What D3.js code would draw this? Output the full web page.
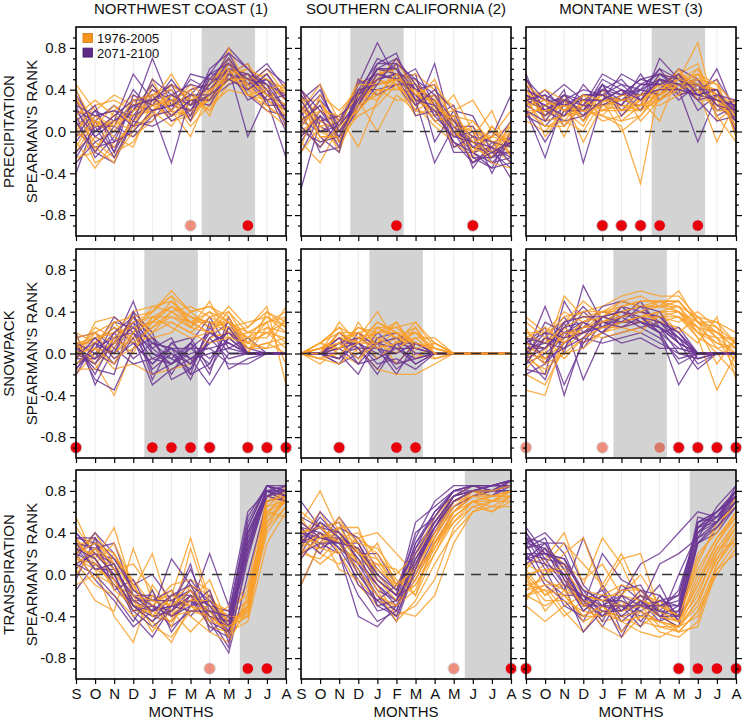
<!DOCTYPE html>
<html><head><meta charset="utf-8">
<script src="https://cdn.jsdelivr.net/npm/d3@7"></script>
<style>
body{margin:0;background:#fff}
svg{display:block}
text{font-family:"Liberation Sans",Arial,sans-serif;fill:#111}
</style>
</head><body><svg id="c" width="742" height="718"></svg>
<script>
// ---------------- DATA ----------------
const months = ["S","O","N","D","J","F","M","A","M","J","J","A"];
const regions = ["NORTHWEST COAST (1)","SOUTHERN CALIFORNIA (2)","MONTANE WEST (3)"];
const variables = ["PRECIPITATION","SNOWPACK","TRANSPIRATION"];
const yLabel = "SPEARMAN\u2019S RANK";
const periods = ["1976-2005","2071-2100"];
const xTitle = "MONTHS";
const majorTicks = [-0.8,-0.4,0.0,0.4,0.8];
const minorTicks = [-0.9,-0.7,-0.6,-0.5,-0.3,-0.2,-0.1,0.1,0.2,0.3,0.5,0.6,0.7,0.9];

// Precipitation - Northwest Coast
const precipNWHist = [
[.45,.2,.35,.25,.3,.1,.15,.35,.5,.4,.3,.2],
[.1,-.3,-.2,-.1,.2,.3,.05,.25,.6,.5,.45,.3],
[-.2,.1,.05,.2,.4,.25,.35,.3,.55,.35,.25,.1],
[.3,.0,.15,.3,.15,.2,-.05,.4,.65,.5,.5,.35],
[-.1,-.35,-.1,.05,.35,.45,.3,.2,.45,.55,.3,.15],
[.2,.15,.0,-.05,.1,.3,.4,.45,.7,.45,.35,.4],
[-.3,-.05,-.15,.1,.25,.15,.2,.3,.5,.6,.4,.25],
[.0,.25,.3,.2,.3,.55,.25,.35,.8,.4,.2,.05],
[.15,-.1,-.25,.0,.45,.2,.15,.5,.6,.5,.55,.3],
[-.05,.05,.1,.15,.2,.05,.3,.25,.4,.35,.3,.45],
[.35,-.2,.2,.35,.25,.35,.1,.4,.55,.65,.35,.2],
[.05,.1,-.05,-.15,.3,.25,.45,.3,.5,.45,.6,.35],
[.3,.1,.0,.25,.35,.4,.2,.3,.6,.55,.4,.15],
[-.25,-.2,.1,.0,.2,.35,.25,.45,.7,.4,.45,.3],
[.15,.3,.15,.1,.5,.15,.35,.2,.55,.6,.5,.4],
[.0,-.15,-.3,.2,.25,.3,.1,.35,.65,.45,.25,.1],
[.4,.05,.25,.05,.15,.45,.3,.4,.5,.5,.35,.25],
[-.15,.15,.05,.3,.35,.2,.4,.15,.6,.35,.4,.45]];
const precipNWFut = [
[-.4,.1,-.2,.15,.25,.3,.3,.3,.6,.5,.4,.1],
[.25,-.2,-.3,.1,.35,.1,.2,.45,.65,.4,.55,.3],
[.05,.2,.1,.55,.3,.45,.35,.55,.55,.45,.3,-.25],
[.3,-.05,-.15,.05,.1,.35,.25,.55,.8,.6,.45,.35],
[-.2,.0,.1,.2,.7,.25,.5,.4,.6,-.05,.35,.2],
[.15,-.25,-.05,.25,.2,-.3,.35,.3,.45,.5,.65,.4],
[-.1,.15,.2,.15,.4,.3,.2,.35,.7,.35,.2,.15],
[.35,.05,.05,-.05,.15,.2,.55,.5,.5,.55,.45,.05],
[.0,-.15,-.1,.3,.3,.4,.15,.6,.75,.4,.5,.3],
[.2,.1,.25,.1,.05,.15,.3,.25,.55,.65,.25,.25],
[-.3,-.1,.0,.2,.45,.2,.4,.45,.6,.3,.4,.0],
[.1,.25,-.2,.35,.25,.5,.25,.35,.65,.45,.6,.45],
[.2,-.05,.1,.25,.3,.35,.45,.4,.6,.55,.35,.25],
[-.05,.2,-.1,.0,.2,.25,.2,.5,.7,.45,.5,.2],
[.4,.0,.15,.3,.35,.15,.3,.3,.55,.5,.3,.35],
[-.25,.05,-.25,.1,.5,.35,.25,.45,.75,.6,.4,.1],
[.1,-.2,.05,.4,.2,.25,.35,.35,.5,.4,.55,.3],
[.25,.15,.2,.05,.3,.45,.1,.55,.65,.5,.45,.2]];

// Precipitation - Southern California
const precipSCHist = [
[.1,.3,.0,.3,.45,.5,.4,.25,.05,-.1,-.2,-.1],
[.3,.0,-.1,.25,.55,.6,.35,.1,-.05,.05,-.15,-.3],
[-.1,-.3,.05,.4,.35,.55,.3,.35,.25,-.2,-.05,.05],
[.2,.45,.1,.2,.5,.4,.5,.2,.15,.1,-.1,-.2],
[.0,.15,-.2,.35,.6,.45,.25,.05,-.1,-.25,.05,-.15],
[.4,.1,.15,-.15,.3,.65,.45,.3,.0,-.15,-.25,.1],
[.15,-.1,.0,.3,.0,.35,.2,.15,.35,.0,-.1,-.05],
[-.05,.2,.05,.5,.45,.5,.55,.4,.1,-.05,.2,-.25],
[.25,.05,-.15,.2,.4,.3,.3,.5,.05,-.3,-.15,.0],
[.05,.25,.1,.35,.6,.55,.4,.15,.2,.3,.0,-.1],
[.35,-.05,-.05,.15,.25,.45,.15,.25,-.15,-.1,-.3,-.35],
[-.15,.35,.2,.4,.5,.7,.35,.3,.1,.0,-.05,.2],
[.2,.1,.0,.25,.5,.45,.3,.2,.0,-.15,-.2,-.2],
[-.2,.05,.1,.35,.3,.5,.45,.25,.1,-.05,-.25,.0],
[.3,.3,-.1,.3,.55,.6,.25,.35,-.05,.1,-.1,-.15],
[.05,-.15,.05,.2,.4,.4,.4,.1,.15,-.2,.05,-.25],
[.1,.2,.15,.45,.45,.5,.2,.3,.05,.0,-.2,.05],
[.25,-.05,-.05,.25,.35,.55,.35,.45,.2,-.1,-.05,-.1]];
const precipSCFut = [
[-.55,.1,.0,.3,.55,.6,.3,.2,.0,-.2,-.3,-.1],
[.3,.45,-.1,.25,.5,.55,.5,.25,.1,-.1,-.25,-.2],
[.1,.0,.1,.45,.85,.5,.35,.1,.15,-.35,-.1,-.3],
[.2,-.2,-.15,.4,.4,.45,.2,.65,-.05,.0,-.4,-.05],
[-.1,.2,.05,.3,.6,.7,.4,.3,-.2,-.2,-.15,.1],
[.4,.05,-.05,.2,.45,.5,.55,-.1,.2,.15,-.2,-.35],
[.05,.3,.1,.35,.7,.6,.25,.35,.0,-.1,.0,-.15],
[.25,-.05,-.2,.5,.35,.45,.45,.15,.25,-.25,-.35,.0],
[-.2,.15,.0,.25,.65,.75,.3,-.3,.05,.05,-.3,-.25],
[.15,.35,.05,.45,.55,.5,.6,.25,-.1,-.3,-.15,-.45],
[.0,-.1,-.05,.35,.5,.65,.15,.2,.1,-.15,-.05,.35],
[.35,.1,.15,.3,.6,.55,.4,.45,-.15,-.05,-.25,-.1],
[.1,.25,-.1,.35,.6,.6,.4,.3,.05,-.15,-.2,-.2],
[.3,.0,.05,.3,.5,.55,.35,.2,-.1,-.2,-.35,-.3],
[-.05,.15,-.15,.4,.65,.65,.5,.35,.1,-.05,-.1,-.15],
[.2,.4,.0,.25,.55,.5,.25,.4,.2,-.25,-.25,-.05],
[.05,-.15,.1,.4,.45,.7,.45,.15,-.05,-.1,-.15,-.25],
[.4,.2,-.05,.3,.6,.6,.3,.25,.0,-.3,-.2,-.1]];

// Precipitation - Montane West
const precipMWHist = [
[.3,.2,.25,.15,.3,.25,.2,.4,.45,.5,.35,.1],
[.45,.1,.3,-.1,.25,.3,.35,.3,.55,.65,.2,.2],
[.2,.35,.1,.3,.15,.05,-.5,.45,.4,.45,.4,.0],
[.35,-.05,.2,.2,.35,.2,.2,.55,.5,.85,.1,.25],
[.15,.25,.05,.25,.1,.15,.3,.35,.6,.35,.5,-.05],
[.5,.15,.35,.1,.3,.4,.1,.3,.45,.55,.25,.15],
[.25,.3,-.05,.35,.2,.25,.25,.5,.35,.4,-.1,.3],
[.1,.0,.2,.05,.4,.1,.15,.4,.5,.6,.3,.05],
[.35,.2,.15,.25,.25,.3,.3,.1,.55,.45,.4,.2],
[.3,.4,.3,.2,.15,.35,.35,.45,.4,.5,.15,-.1],
[.2,.05,.1,.0,.3,.0,.15,.35,.6,.3,.3,.1],
[.4,.15,.25,.15,.2,.2,.25,.25,.35,.55,.45,.25],
[.25,.3,.2,.25,.35,.3,.25,.35,.45,.45,.25,.15],
[.4,.1,.15,.2,.25,.2,.3,.4,.5,.55,.35,.05],
[.15,.25,.3,.1,.3,.25,.2,.3,.4,.6,.3,.3],
[.3,.05,.05,.3,.2,.35,.3,.45,.55,.4,.2,.2],
[.2,.2,.25,.2,.15,.1,.25,.3,.45,.5,.45,-.05],
[.45,.3,.2,.35,.3,.3,.35,.35,.5,.45,.35,.15]];
const precipMWFut = [
[.35,.25,.35,.3,.4,.35,.5,.45,.35,.4,.3,.2],
[.55,.1,.15,.45,.25,.3,.25,.7,.5,.3,.6,.15],
[.2,-.25,.3,.1,.45,.2,.4,.35,.55,.45,.2,.3],
[.3,.35,.05,.25,.55,.45,.3,.55,.4,-.1,.35,.05],
[.45,.15,.4,-.3,.3,.3,.35,.4,.6,.5,.15,.25],
[.25,.4,.2,.35,.35,.25,.55,.3,.45,.35,.4,.0],
[.15,.05,.25,.2,.5,.4,.2,.5,.3,.45,.25,.3],
[.4,.3,.45,.3,.3,.55,.45,.45,.55,.2,.35,.1],
[.3,.2,.1,.15,.45,.15,.35,.6,.35,.4,.5,.2],
[.5,.3,.3,.4,.35,.3,.4,.35,.5,.3,.1,.15],
[.2,-.1,.2,.2,.4,.5,.3,.5,.4,.35,.3,.25],
[.35,.2,.35,.25,.25,.35,.5,.55,.45,.5,.25,.1],
[.4,.3,.25,.35,.35,.45,.4,.5,.45,.45,.35,.2],
[.25,.15,.3,.2,.4,.3,.45,.55,.5,.4,.4,.15],
[.3,.35,.25,.3,.3,.4,.35,.4,.4,.35,.3,.25],
[.5,.2,.3,.25,.45,.35,.4,.6,.5,.45,.25,.2],
[.35,.25,.15,.35,.35,.25,.45,.45,.55,.35,.4,.1],
[.2,.1,.35,.15,.3,.4,.3,.5,.45,.3,.35,.3]];

// Snowpack - Northwest Coast
const snowNWHist = [
[.2,.1,.0,.15,.35,.45,.3,.3,.2,.1,.3,.4],
[-.05,.3,.35,.2,.4,.6,.4,.45,.35,.05,.1,.15],
[.0,-.1,-.4,.05,.3,.5,.35,.25,.45,.25,.45,-.3],
[.1,.15,.2,.4,.45,.4,.25,.4,.3,.2,.2,.05],
[-.2,.0,.1,.1,.25,.35,.3,.2,.15,.0,.4,.25],
[.05,.2,.3,.35,.2,.3,.2,.35,.25,.15,.15,.45],
[-.1,.05,-.15,-.1,-.2,-.15,-.1,.15,.2,.05,.05,.1],
[.15,-.05,.05,.25,.3,.45,.35,.3,.25,.3,.35,.2],
[.0,.25,.15,.0,.35,.25,.15,.2,.4,.1,.2,.3],
[-.15,-.15,.1,.3,.4,.55,.25,.5,.15,.2,.3,-.1],
[.1,.1,.25,.15,.15,.2,.4,.25,.3,.1,.05,.35],
[-.05,.2,-.05,.05,.2,.4,.3,.2,.35,.0,.25,.1],
[.05,.15,.2,.25,.3,.45,.35,.3,.3,.15,.25,.2],
[-.1,.05,.0,.2,.45,.5,.3,.4,.2,.25,.4,.3],
[.1,-.1,.15,.3,.35,.35,.25,.2,.25,.05,.1,.0],
[-.05,.1,.3,.1,.25,.4,.45,.35,.4,.2,.3,.35],
[.0,.05,-.1,.2,.3,.3,.2,.1,.15,.1,.2,.15],
[.15,.2,.1,.35,.4,.55,.4,.45,.3,.15,.35,.25]];
const snowNWFut = [
[.0,-.1,.1,.5,.0,-.1,.05,.2,.1,.0,0,0],
[-.15,.05,.35,.2,-.15,.0,-.2,-.1,.25,.0,0,0],
[.1,-.25,-.35,.05,.15,-.2,.1,.35,.05,.15,0,0],
[.05,.15,.0,.3,-.25,.1,-.05,-.3,.0,.0,0,0],
[-.1,.0,.2,-.05,.1,.05,-.25,.15,.3,.0,0,0],
[.2,-.3,.05,.35,.05,-.1,.0,.05,-.1,-.1,0,0],
[-.2,.1,.25,.1,-.1,.1,.15,-.15,.15,.0,0,0],
[.05,-.15,-.2,.4,.2,-.25,-.15,.25,.0,.0,0,0],
[.15,.2,.05,-.1,-.05,.05,-.1,.1,.2,.05,0,0],
[-.05,-.05,.3,.25,.1,-.05,.1,-.2,.35,.0,0,0],
[.0,.1,-.1,.15,-.3,-.15,-.05,.0,.05,.0,0,0],
[.1,-.2,.15,.2,.05,.15,-.2,.3,-.15,-.05,0,0],
[-.1,.05,.15,.3,.1,.05,-.05,.1,.2,.0,0,0],
[.1,.0,-.1,.2,-.05,-.1,.1,-.05,.15,.0,0,0],
[.0,-.1,.2,.35,.15,.0,-.1,.2,.1,.0,0,0],
[-.05,.15,-.05,.1,-.1,.05,.05,-.1,.25,.0,0,0],
[.05,-.05,.1,.25,.0,-.05,-.15,.15,-.05,.0,0,0],
[-.15,.1,.0,.4,-.2,-.1,.05,.05,.1,.0,0,0]];

// Snowpack - Southern California
const snowSCHist = [
[0,.1,.2,.05,.25,.15,.1,.05,0,0,0,0],
[0,-.05,.1,.2,.1,.2,.05,.0,0,0,0,0],
[0,.05,.05,.15,.4,.1,.3,.1,0,0,0,0],
[0,.0,.3,.1,.2,.3,.0,-.05,0,0,0,0],
[0,.05,-.05,.3,.05,.15,.2,.05,0,0,0,0],
[0,.1,.25,.0,.15,-.1,.1,.0,0,0,0,0],
[0,-.1,.05,.15,.2,.2,-.05,.1,0,0,0,0],
[0,.05,.15,.2,-.05,.1,.15,.15,0,0,0,0],
[0,.1,.0,-.1,.25,.25,.1,.05,0,0,0,0],
[0,.0,.2,.1,.1,.0,.25,-.05,0,0,0,0],
[0,-.05,-.1,.05,-.15,-.2,-.2,-.1,0,0,0,0],
[0,.05,.1,.25,.15,.05,.15,.0,0,0,0,0],
[0,.05,.15,.1,.3,.2,.2,.1,0,0,0,0],
[0,.1,.05,.25,.2,.25,.3,.05,0,0,0,0],
[0,.0,.2,.2,.25,.15,.25,.0,0,0,0,0],
[0,.05,.1,-.05,.1,.3,.05,.1,0,0,0,0],
[0,.1,.25,.15,.05,.1,.2,.0,0,0,0,0],
[0,-.05,.0,.1,.3,.2,.1,.05,0,0,0,0]];
const snowSCFut = [
[0,0,.05,.1,-.05,.1,.05,0,0,0,0,0],
[0,0,-.1,.15,.1,-.15,.0,0,0,0,0,0],
[0,0,.1,-.05,.2,.05,-.1,0,0,0,0,0],
[0,0,.2,.05,-.2,.1,.1,0,0,0,0,0],
[0,0,-.05,.2,.05,-.1,-.05,0,0,0,0,0],
[0,0,.0,-.2,.15,.2,.05,0,0,0,0,0],
[0,0,.1,.1,-.1,-.05,-.15,0,0,0,0,0],
[0,0,-.1,.0,.1,.15,.0,0,0,0,0,0],
[0,0,.15,.05,.05,-.2,.1,0,0,0,0,0],
[0,0,.05,-.1,-.05,.05,-.05,0,0,0,0,0],
[0,0,.1,.15,.05,.0,.1,0,0,0,0,0],
[0,0,.0,.05,-.15,.1,-.1,0,0,0,0,0],
[0,0,.15,-.1,.1,.05,.05,0,0,0,0,0],
[0,0,-.05,.1,.0,-.1,.1,0,0,0,0,0]];

// Snowpack - Montane West
const snowMWHist = [
[.35,.2,.3,.4,.45,.55,.6,.55,.55,.35,.3,.1],
[.0,-.2,.1,.3,.4,.4,.45,.5,.45,.25,.2,.05],
[-.35,-.4,.15,.2,.3,.35,.4,.45,.4,.2,.0,-.2],
[.1,.05,.3,.5,.35,.45,.5,.5,.5,.3,.15,.15],
[-.1,.15,-.05,.15,.25,.3,.35,.4,.35,.15,-.35,.0],
[.25,-.1,.25,.1,.2,.25,.3,.35,.3,.4,.25,-.1],
[.05,.0,.55,.35,.3,.4,.35,.4,.45,.2,.1,.05],
[-.2,-.3,.05,.2,.15,.2,.25,.3,.25,.1,.35,-.25],
[.15,.1,.2,.25,.35,.5,.55,.45,.6,.3,.2,.1],
[-.05,-.15,.0,.05,.2,.3,.3,.35,.4,.15,.05,-.05],
[.2,.2,.4,.3,.4,.35,.4,.3,.35,.25,-.1,.15],
[.0,-.05,.1,.25,.25,.25,.2,.4,.2,.35,.15,.0],
[.2,.1,.25,.35,.4,.45,.5,.5,.5,.3,.25,.1],
[.1,-.05,.2,.2,.3,.4,.45,.45,.45,.35,.2,.05],
[-.15,.05,.15,.3,.35,.3,.35,.4,.4,.25,.1,.0],
[.3,.15,.35,.4,.4,.5,.45,.45,.5,.3,.3,.2],
[.05,-.1,.0,.15,.25,.3,.35,.35,.35,.2,.15,-.15],
[.15,.25,.1,.25,.3,.35,.4,.5,.4,.3,.05,.1]];
const snowMWFut = [
[.0,.45,.0,.65,.3,.3,.35,.25,.1,.0,0,0],
[-.15,-.2,.5,.2,.35,.4,.3,.2,-.3,.0,0,0],
[.1,.2,-.3,.1,.2,.45,.4,.3,.2,.0,0,0],
[-.05,-.25,.2,.3,.4,.35,.5,.25,.15,-.1,0,0],
[.05,.1,.3,-.25,.15,.2,.25,.15,-.05,.0,0,0],
[-.1,.0,.15,.4,.25,.35,.4,.35,.2,.0,0,0],
[.1,.25,-.4,.15,.1,.15,.2,.1,.0,.0,0,0],
[-.2,-.1,.1,.25,.45,.5,.45,.3,.1,-.15,0,0],
[.0,.15,.35,.05,.3,.25,.3,.2,-.1,.0,0,0],
[.15,-.05,.05,.3,.2,.1,.15,.05,.05,.0,0,0],
[-.05,.3,.2,.1,.35,.3,.35,.2,.25,.0,0,0],
[.05,.05,.25,.45,.25,.45,.3,.25,.0,-.05,0,0],
[.1,.05,.2,.25,.3,.35,.4,.35,.15,.0,0,0],
[-.1,.15,.1,.2,.25,.3,.3,.25,.1,.0,0,0],
[.05,-.1,.3,.35,.35,.4,.35,.3,.15,.0,0,0],
[.0,.2,.15,.2,.3,.25,.35,.2,.05,.0,0,0],
[-.05,.05,.25,.3,.2,.35,.25,.3,.2,-.05,0,0],
[.15,.1,.05,.15,.35,.3,.45,.4,.1,.0,0,0]];

// Transpiration - Northwest Coast
const transNWHist = [
[.45,.2,.0,-.2,-.35,-.3,-.15,-.3,-.45,-.3,.6,.75],
[.2,.4,.1,-.3,-.45,-.65,-.3,-.4,-.5,-.4,.5,.7],
[.05,-.25,-.35,.25,-.25,-.2,.35,-.25,-.35,-.1,.75,.8],
[.55,.15,.45,-.15,.2,-.4,-.2,-.5,-.55,-.45,.3,.6],
[.15,.05,-.4,-.65,-.1,-.35,-.55,-.35,-.4,-.25,.7,.75],
[.3,.3,.15,-.05,-.3,-.1,-.05,-.15,-.6,-.35,.55,.85],
[-.1,.0,-.1,-.25,-.55,-.25,-.3,-.45,-.3,-.2,.65,.7],
[.25,.35,.05,.1,-.15,-.5,-.1,-.2,-.45,-.35,.4,.65],
[.1,-.1,-.2,-.4,-.3,-.15,-.4,-.55,-.65,-.3,.7,.8],
[.35,.1,.3,-.1,-.4,-.45,.25,-.3,-.4,-.15,.6,.55],
[.0,.25,-.05,-.35,-.2,-.3,-.25,-.05,-.5,-.4,.45,.75],
[.2,-.05,.2,-.2,-.5,-.6,-.35,-.4,-.55,-.3,.75,.7],
[.25,.2,.05,-.25,-.4,-.35,-.2,-.35,-.5,-.3,.55,.7],
[.3,.15,-.15,-.3,-.3,-.4,-.35,-.3,-.45,-.35,.5,.75],
[.1,.25,.1,-.15,-.25,-.25,-.1,-.4,-.55,-.25,.65,.8],
[.35,.05,-.05,-.35,-.35,-.45,-.25,-.25,-.4,-.4,.45,.65],
[.2,.3,.2,-.1,-.4,-.2,-.3,-.35,-.6,-.2,.6,.7],
[.15,.1,-.1,-.2,-.25,-.3,-.15,-.45,-.5,-.35,.7,.75]];
const transNWFut = [
[.35,.3,-.05,-.3,-.45,-.2,-.2,-.4,-.7,.2,.85,.8],
[.15,.4,.2,-.15,-.3,-.5,-.35,-.3,-.5,.4,.8,.75],
[-.15,.1,.0,-.4,-.6,-.3,.1,-.55,-.4,.5,.85,.85],
[.4,.2,.15,-.1,.0,-.25,-.3,.2,-.3,.6,.8,.7],
[.2,-.05,-.25,-.5,-.35,.15,-.1,-.25,-.45,.3,.75,.8],
[.05,.25,.3,-.2,-.2,-.4,-.25,-.45,-.75,.0,.7,.75],
[.3,.15,-.1,-.35,-.5,-.35,-.05,-.3,-.35,.45,.85,.8],
[.25,.05,.05,-.25,-.25,-.15,-.4,-.2,-.55,.35,.8,.7],
[-.05,.35,-.15,-.05,-.4,-.45,-.2,-.5,-.6,.25,.75,.85],
[.4,.2,.1,-.3,-.35,-.3,.05,-.35,-.4,.55,.85,.75],
[.1,.0,-.2,-.45,-.15,-.55,-.3,-.15,-.65,.15,.8,.8],
[.2,.3,.05,-.2,-.3,-.35,-.15,-.4,-.5,.4,.75,.7],
[.3,.25,.1,-.25,-.35,-.3,-.25,-.35,-.55,.35,.8,.8],
[.2,.1,-.05,-.3,-.4,-.35,-.2,-.3,-.6,.3,.8,.75],
[.35,.35,.15,-.15,-.25,-.25,-.15,-.4,-.45,.45,.85,.8],
[.1,.2,.0,-.35,-.3,-.4,-.3,-.25,-.5,.2,.75,.8],
[.25,.15,-.1,-.2,-.35,-.2,-.1,-.45,-.55,.4,.8,.85],
[.3,.05,.1,-.3,-.45,-.3,-.35,-.35,-.4,.25,.85,.75]];

// Transpiration - Southern California
const transSCHist = [
[.5,.8,.4,.3,-.05,-.2,-.1,.2,.55,.7,.75,.75],
[.3,.35,.45,.35,.4,.2,.0,.3,.5,.65,.6,.7],
[.6,.45,.3,.0,-.2,-.35,-.4,-.2,.3,.6,.7,.8],
[.2,.15,.35,.4,.15,-.15,.1,.45,.65,.75,.8,.85],
[.4,.5,.2,-.1,-.3,-.25,.05,.25,.6,.7,.65,.75],
[-.1,.3,.55,.2,.1,.05,-.2,.35,.7,.8,.75,.8],
[.45,.2,.1,.25,-.1,-.4,-.3,-.05,.45,.65,.7,.7],
[.35,.6,.3,.1,.3,-.1,.15,.5,.7,.75,.8,.9],
[.15,.4,.05,-.05,-.25,-.3,-.15,.3,.55,.7,.6,.75],
[.55,.25,.45,.45,.0,-.2,.0,.4,.6,.8,.7,.8],
[.25,.1,.25,.15,-.15,-.45,-.25,.1,.4,.6,.65,.65],
[.4,.45,.5,.3,.25,.0,.2,.55,.75,.85,.8,.85],
[.35,.3,.35,.2,.05,-.1,-.05,.3,.6,.75,.7,.8],
[.25,.4,.3,.25,-.05,-.25,-.1,.25,.55,.7,.75,.75],
[.5,.35,.4,.1,.1,-.15,.1,.35,.65,.8,.75,.8],
[.3,.25,.2,.35,.2,-.05,-.2,.2,.5,.7,.7,.75],
[.4,.45,.3,.05,-.2,-.3,-.05,.3,.6,.75,.75,.8],
[.2,.35,.45,.2,.15,-.1,.05,.4,.7,.8,.8,.85]];
const transSCFut = [
[.7,.45,.5,.1,-.1,-.25,.3,.6,.75,.8,.85,.85],
[.3,.55,.35,.25,-.3,-.4,.1,.5,.7,.8,.75,.9],
[-.1,.3,.55,.3,.0,-.2,.5,.65,.8,.85,.8,.85],
[.45,.4,.2,-.4,-.5,-.3,.0,.35,.65,.75,.8,.8],
[.2,.5,.4,.2,.2,-.1,.2,.45,.75,.85,.85,.9],
[.5,.35,.3,.05,-.2,-.45,.05,.55,.8,.8,.75,.85],
[.35,.2,.45,.35,.05,-.15,.35,.7,.85,.85,.85,.9],
[.55,.45,.25,-.05,-.35,-.3,-.05,.3,.6,.75,.8,.8],
[.25,.6,.4,.15,-.15,-.25,.15,.4,.7,.8,.8,.85],
[.4,.3,.2,-.2,-.45,-.35,.25,.5,.75,.8,.85,.9],
[.15,.4,.3,.3,-.05,-.2,.4,.55,.8,.85,.8,.85],
[.45,.25,.35,.0,-.25,-.1,.1,.45,.7,.8,.8,.85],
[.4,.35,.35,.15,-.1,-.3,.2,.5,.75,.85,.8,.9],
[.3,.4,.25,.1,-.2,-.35,.15,.45,.75,.8,.85,.85],
[.35,.45,.4,.2,-.05,-.2,.3,.55,.8,.85,.8,.9],
[.2,.3,.3,.05,-.3,-.25,.1,.4,.7,.8,.8,.85],
[.5,.35,.3,.25,.0,-.15,.25,.6,.8,.85,.85,.85],
[.3,.5,.35,-.1,-.25,-.4,.05,.45,.7,.8,.85,.9]];

// Transpiration - Montane West
const transMWHist = [
[.0,-.2,-.1,-.3,-.2,-.35,-.25,-.4,-.5,-.15,.2,.5],
[-.3,-.45,-.3,-.2,-.45,-.4,-.5,-.35,-.55,-.35,.0,.25],
[.1,.15,.4,-.1,.35,.1,-.3,-.25,-.45,.0,.35,.6],
[-.15,-.1,-.35,-.55,-.3,-.55,-.35,-.55,-.6,-.45,.1,.4],
[.05,.25,.1,-.05,.1,-.2,.0,-.3,-.4,.15,.45,.7],
[-.2,-.3,-.2,-.4,-.4,-.25,-.45,-.5,-.5,-.25,.15,.35],
[.1,.0,.2,.35,-.15,.15,.2,-.35,-.45,-.05,.3,.55],
[-.1,-.15,-.4,-.25,-.5,-.6,-.4,-.45,-.55,-.5,.05,.2],
[-.25,.05,.0,-.3,-.2,-.1,-.15,-.3,-.4,.1,.5,.65],
[.0,-.35,-.15,-.45,-.35,-.45,-.55,-.6,-.5,-.3,.2,.45],
[-.05,.1,.3,.1,-.1,.2,-.2,-.25,-.4,.2,.4,.75],
[-.2,-.1,-.1,-.2,-.25,-.3,-.2,-.4,-.45,-.2,.25,.3],
[-.1,-.05,-.15,-.25,-.3,-.3,-.3,-.4,-.45,-.1,.25,.5],
[.05,-.2,-.05,-.3,-.35,-.4,-.35,-.45,-.5,-.25,.15,.45],
[-.15,.0,.1,-.15,-.2,-.2,-.25,-.3,-.4,.05,.35,.55],
[-.05,-.25,-.25,-.35,-.4,-.35,-.3,-.5,-.55,-.35,.1,.35],
[.0,.05,.05,-.2,-.25,-.15,-.15,-.35,-.45,-.1,.3,.6],
[-.2,-.15,-.2,-.4,-.3,-.45,-.4,-.45,-.5,-.4,.05,.3]];
const transMWFut = [
[.45,.2,.0,-.35,-.2,-.3,-.4,-.3,-.3,.5,.6,.8],
[.3,.4,.2,-.2,-.45,-.1,-.25,-.45,.0,.4,.5,.75],
[.15,.1,-.15,.35,-.1,-.55,-.3,-.1,-.45,.35,.65,.85],
[.35,.3,.3,-.1,-.3,-.2,.1,.2,.4,.6,.55,.7],
[.2,-.1,-.25,-.45,-.1,-.35,-.2,-.4,-.5,.3,.4,.65],
[.25,.35,-.05,-.25,-.5,-.2,-.45,-.25,-.2,.45,.55,.8],
[.4,.15,.1,-.3,.2,-.05,-.15,-.2,-.4,.5,.6,.75],
[.1,.25,-.1,-.55,-.35,-.4,-.35,-.45,-.35,.3,.45,.7],
[.3,-.05,-.2,-.2,-.25,-.6,-.25,-.35,-.15,.45,.5,.85],
[.2,.2,.15,-.15,-.4,-.3,-.5,-.2,-.45,.4,.6,.75],
[.35,.05,-.3,-.4,-.3,-.15,-.1,-.4,-.3,.55,.5,.8],
[.15,.3,.05,-.25,-.15,-.45,-.3,.1,.2,.35,.45,.65],
[.3,.25,.05,-.3,-.3,-.3,-.3,-.35,-.35,.4,.55,.75],
[.2,.15,-.1,-.2,-.35,-.35,-.2,-.3,-.25,.45,.6,.8],
[.35,.2,.1,-.15,-.25,-.25,-.35,-.25,-.3,.35,.5,.7],
[.25,.3,-.05,-.35,-.2,-.4,-.25,-.4,-.4,.5,.55,.8],
[.4,.1,.0,-.25,-.4,-.2,-.3,-.3,-.2,.45,.6,.75],
[.15,.2,.15,-.2,-.3,-.35,-.15,-.35,-.4,.3,.5,.7]];

// Season windows (month index first..last) and significance markers (month indices)
const seasons = [[7,9],[3,5],[7,9],[4,6],[4,6],[5,7],[9,11],[9,11],[9,11]];
const sigStrong = [[9],[5,9],[4,5,6,7,9],[0,4,5,6,7,9,10,11],[2,5,6],[8,9,10,11],[9,10],[11],[0,8,9,10,11]];
const sigWeak = [[6],[],[],[],[],[0,4,7],[7],[8],[]];

const histSets = [precipNWHist,precipSCHist,precipMWHist,snowNWHist,snowSCHist,snowMWHist,transNWHist,transSCHist,transMWHist];
const futSets = [precipNWFut,precipSCFut,precipMWFut,snowNWFut,snowSCFut,snowMWFut,transNWFut,transSCFut,transMWFut];

// ---------------- DRAW ----------------
const svg = d3.select("#c");
const colL = [76,301,526], rowT = [27,249,470], W = 210, H = 209;
const C_HIST = "#f9a02a", C_FUT = "#6c3794";
const FONT = "'Liberation Sans',Arial,sans-serif";
const FS = 15, FS_TICK = 15;

histSets.forEach((hist, k) => {
  const row = Math.floor(k/3), col = k%3;
  const fut = futSets[k];
  const x0 = colL[col], y0 = rowT[row];
  const x = d3.scaleLinear().domain([0,11]).range([x0, x0+W]);
  const y = d3.scaleLinear().domain([-1,1]).range([y0+H, y0]);
  const g = svg.append("g");

  g.selectAll("line.grid").data(months).join("line")
    .attr("x1",(d,i)=>x(i)).attr("x2",(d,i)=>x(i))
    .attr("y1",y0).attr("y2",y0+H)
    .attr("stroke","#ececec").attr("stroke-width",1);

  const s = seasons[k];
  const sx0 = x(Math.max(0, s[0]-0.42)), sx1 = x(Math.min(11, s[1]+0.38));
  g.append("rect").attr("x",sx0).attr("y",y0+1).attr("width",sx1-sx0).attr("height",H-2)
    .attr("fill","#d3d3d3");

  const line = d3.line().x((d,i)=>x(i)).y(d=>y(d));
  const n = Math.max(hist.length, fut.length);
  for (let i=0;i<n;i++){
    if (hist[i]) g.append("path").datum(hist[i]).attr("d",line)
      .attr("fill","none").attr("stroke",C_HIST).attr("stroke-width",1.3).attr("stroke-opacity",0.85);
    if (fut[i]) g.append("path").datum(fut[i]).attr("d",line)
      .attr("fill","none").attr("stroke",C_FUT).attr("stroke-width",1.3).attr("stroke-opacity",0.85);
  }

  g.append("line").attr("x1",x(0)).attr("x2",x(11)).attr("y1",y(0)).attr("y2",y(0))
    .attr("stroke","#333").attr("stroke-width",1.3).attr("stroke-dasharray","10,7");

  g.selectAll("circle.w").data(sigWeak[k]).join("circle")
    .attr("cx",d=>x(d)).attr("cy",y(-0.9)).attr("r",5.8)
    .attr("fill","#e02000").attr("fill-opacity",0.5).attr("stroke","#d5e4e8").attr("stroke-width",1);
  g.selectAll("circle.s").data(sigStrong[k]).join("circle")
    .attr("cx",d=>x(d)).attr("cy",y(-0.9)).attr("r",5.8)
    .attr("fill","#e8000b").attr("stroke","#c9dde2").attr("stroke-width",1);

  g.append("rect").attr("x",x0).attr("y",y0).attr("width",W).attr("height",H)
    .attr("fill","none").attr("stroke","#000").attr("stroke-width",1.6);

  const fmt = d => d.toFixed(1);
  const styleAxis = a => { a.select(".domain").remove(); a.selectAll("line").attr("stroke","#000").attr("stroke-width",1.2);
    a.selectAll("text").attr("font-size",FS_TICK).attr("font-family",FONT).attr("fill","#111"); };
  svg.append("g").attr("transform",`translate(${x0},0)`)
    .call(d3.axisLeft(y).tickValues(majorTicks).tickSize(6).tickPadding(4).tickFormat(col===0?fmt:""))
    .call(styleAxis);
  svg.append("g").attr("transform",`translate(${x0},0)`)
    .call(d3.axisLeft(y).tickValues(minorTicks).tickSize(3).tickFormat(""))
    .call(styleAxis);
  svg.append("g").attr("transform",`translate(${x0+W},0)`)
    .call(d3.axisRight(y).tickValues(majorTicks).tickSize(6).tickFormat(""))
    .call(styleAxis);
  svg.append("g").attr("transform",`translate(${x0+W},0)`)
    .call(d3.axisRight(y).tickValues(minorTicks).tickSize(3).tickFormat(""))
    .call(styleAxis);
  svg.append("g").attr("transform",`translate(0,${y0+H})`)
    .call(d3.axisBottom(x).tickValues(d3.range(months.length)).tickSize(5).tickPadding(4)
      .tickFormat(row===2 ? (i=>months[i]) : ""))
    .call(styleAxis);

  if (row===0) svg.append("text").attr("x",x0+W/2).attr("y",14).attr("text-anchor","middle")
    .attr("font-size",FS).attr("font-family",FONT).text(regions[col]);
  if (row===2) svg.append("text").attr("x",x0+W/2).attr("y",716.5).attr("text-anchor","middle")
    .attr("font-size",FS).attr("font-family",FONT).text(xTitle);
  if (col===0){
    const cy = y0+H/2;
    svg.append("text").attr("transform",`translate(14,${cy}) rotate(-90)`).attr("text-anchor","middle")
      .attr("font-size",FS).attr("font-family",FONT).text(variables[row]);
    svg.append("text").attr("transform",`translate(36.5,${cy}) rotate(-90)`).attr("text-anchor","middle")
      .attr("font-size",FS).attr("font-family",FONT).text(yLabel);
  }
});

// legend
const lg = svg.append("g");
const legendColors = [["#f7941d","#d3770f"],["#5f2a86","#3e1660"]];
periods.forEach((p,i)=>{
  lg.append("rect").attr("x",83).attr("y",33.5+i*14.6).attr("width",9.5).attr("height",9)
    .attr("fill",legendColors[i][0]).attr("stroke",legendColors[i][1]).attr("stroke-width",0.8);
  lg.append("text").attr("x",97).attr("y",43+i*14.6).attr("font-size",13).attr("font-family",FONT).text(p);
});
</script>
</body></html>
